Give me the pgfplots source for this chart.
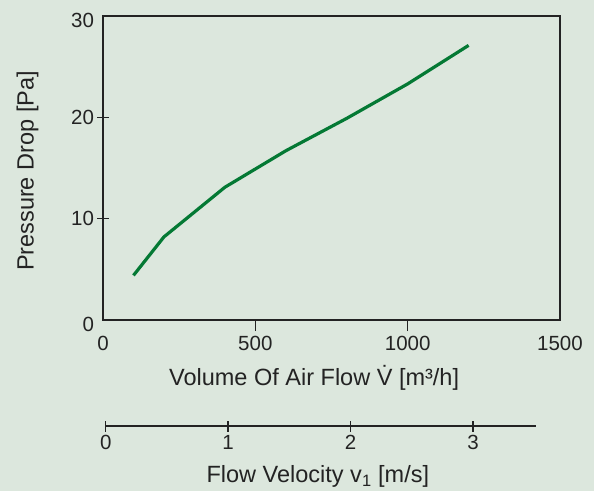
\documentclass[border=0pt]{standalone}
\usepackage{fontspec}
\setmainfont{Liberation Sans}
\usepackage{pgfplots}
\pgfplotsset{compat=1.18}

\definecolor{bgcol}{RGB}{220,231,221}
\definecolor{curve}{RGB}{4,121,52}
\definecolor{ink}{RGB}{35,35,35}

\pgfplotsset{
  chartbase/.style={
    scale only axis,
    /pgf/number format/assume math mode=true,
    /pgf/number format/1000 sep={},
    tick label style={font=\fontsize{20.5}{24}\selectfont, text=ink},
    label style={font=\fontsize{23.5}{28}\selectfont, text=ink},
    axis line style={ink, line width=1.6pt},
    tick style={ink, line width=1.5pt},
    major tick length=11pt,
  }
}

\begin{document}
\begin{tikzpicture}[x=1pt,y=1pt]
\fill[bgcol] (0,0) rectangle (594,491);
\useasboundingbox (0,0) rectangle (594,491);

% pressure drop vs volume flow
\begin{axis}[
  chartbase,
  at={(103pt,171pt)}, anchor=south west,
  width=457pt, height=304pt,
  xmin=0, xmax=1500, ymin=0, ymax=30,
  xtick={500,1000}, ytick={10,20},
  extra x ticks={0,1500}, extra y ticks={0,30},
  xticklabel style={yshift=-2pt},
  extra x tick style={major tick style={draw=none}},
  extra y tick style={major tick style={draw=none}, yticklabel style={yshift=-4pt}},
  xtick pos=bottom, ytick pos=left,
  xtick align=outside, ytick align=center,
  xlabel={Volume Of Air Flow \.{V} [m³/h]},
  xlabel style={at={(axis description cs:0.462,-0.214)}, anchor=base},
  ylabel={Pressure Drop [Pa]},
  ylabel style={at={(axis description cs:-0.165,0.49)}, anchor=center},
]
\addplot[curve, line width=3.2pt] coordinates {
  (100,4.4) (200,8.2) (400,13.1) (600,16.7) (800,19.9) (1000,23.3) (1200,27.1)
};
\end{axis}

% secondary scale: flow velocity
\begin{axis}[
  chartbase,
  at={(105.7pt,65pt)}, anchor=south west,
  width=430.3pt, height=20pt,
  xmin=0, xmax=3.513, ymin=0, ymax=1,
  axis x line=bottom, hide y axis,
  axis line style={-},
  xtick={0,1,2,3}, tick align=center,
  xlabel={Flow Velocity v\textsubscript{1} [m/s]},
  xlabel style={at={(axis description cs:0.493,-2.83)}, anchor=base},
]
\end{axis}
\end{tikzpicture}
\end{document}
